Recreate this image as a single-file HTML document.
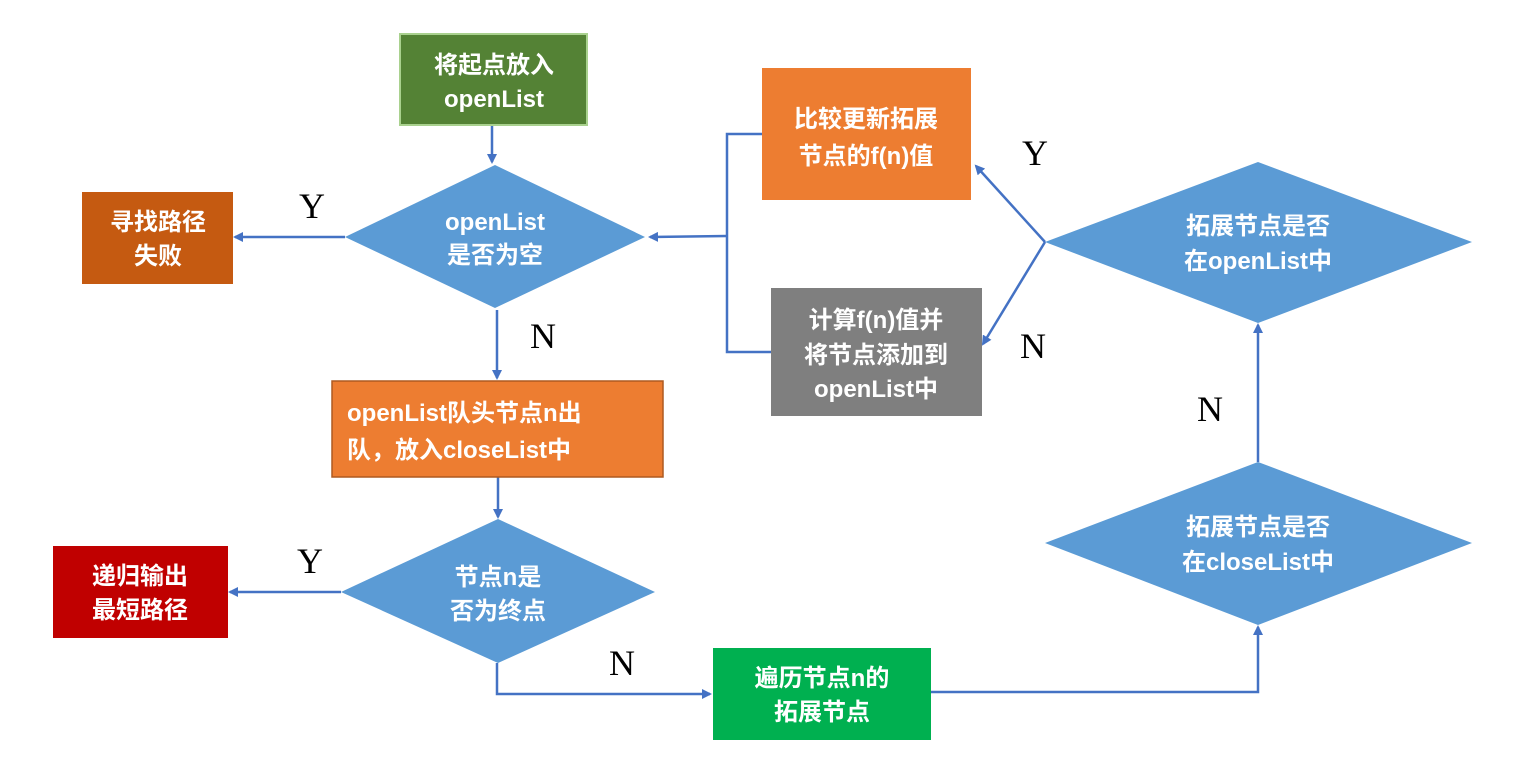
<!DOCTYPE html>
<html><head><meta charset="utf-8"><style>body{margin:0;background:#fff}svg{display:block}
.t{font-family:"Liberation Sans","Noto Sans CJK SC",sans-serif;font-weight:bold;font-size:24px;fill:#fff;text-anchor:middle}
.l{font-family:"Liberation Serif",serif;font-size:36px;fill:#000;text-anchor:middle}
</style></head><body>
<svg width="1523" height="768" viewBox="0 0 1523 768" xmlns="http://www.w3.org/2000/svg">
<defs><marker id="a" markerWidth="10" markerHeight="10" refX="8" refY="5" orient="auto" markerUnits="userSpaceOnUse"><path d="M0,0 L10,5 L0,10 z" fill="#4472c4"/></marker></defs>
<g stroke="#4472c4" stroke-width="2.5" fill="none">
<line x1="492" y1="125" x2="492" y2="162" marker-end="url(#a)"/>
<line x1="345" y1="237" x2="235" y2="237" marker-end="url(#a)"/>
<line x1="497" y1="310" x2="497" y2="378" marker-end="url(#a)"/>
<line x1="498" y1="477" x2="498" y2="517" marker-end="url(#a)"/>
<line x1="341" y1="592" x2="230" y2="592" marker-end="url(#a)"/>
<polyline points="497,663 497,694 710,694" marker-end="url(#a)"/>
<polyline points="931,692 1258,692 1258,627" marker-end="url(#a)"/>
<line x1="1258" y1="462" x2="1258" y2="325" marker-end="url(#a)"/>
<line x1="1045" y1="242" x2="976" y2="166" marker-end="url(#a)"/>
<line x1="1045" y1="242" x2="983" y2="344" marker-end="url(#a)"/>
<polyline points="762,134 727,134 727,352 771,352"/>
<line x1="727" y1="236" x2="650" y2="237" marker-end="url(#a)"/>
</g>
<rect x="400" y="34" width="187" height="91" fill="#548235" stroke="#a9d18e" stroke-width="2"/>
<text class="t" x="494" y="73">将起点放入</text><text class="t" x="494" y="107">openList</text>
<polygon points="345,237 495,165 645,237 495,308" fill="#5b9bd5"/>
<text class="t" x="495" y="230">openList</text><text class="t" x="495" y="263">是否为空</text>
<rect x="82" y="192" width="151" height="92" fill="#c55a11"/>
<text class="t" x="158" y="230">寻找路径</text><text class="t" x="158" y="264">失败</text>
<text class="l" x="312" y="218">Y</text>
<text class="l" x="543" y="348">N</text>
<rect x="332" y="381" width="331" height="96" fill="#ed7d31" stroke="#ae5a21" stroke-width="1.5"/>
<text class="t" x="490" y="421" style="text-anchor:start" transform="translate(-143,0)">openList队头节点n出</text>
<text class="t" x="347" y="458" style="text-anchor:start">队，放入closeList中</text>
<polygon points="341,592 498,519 655,592 498,663" fill="#5b9bd5"/>
<text class="t" x="498" y="585">节点n是</text><text class="t" x="498" y="619">否为终点</text>
<rect x="53" y="546" width="175" height="92" fill="#c00000"/>
<text class="t" x="140" y="584">递归输出</text><text class="t" x="140" y="618">最短路径</text>
<text class="l" x="310" y="573">Y</text>
<text class="l" x="622" y="675">N</text>
<rect x="713" y="648" width="218" height="92" fill="#00b050"/>
<text class="t" x="822" y="686">遍历节点n的</text><text class="t" x="822" y="720">拓展节点</text>
<polygon points="1045,543 1258,462 1472,543 1258,625" fill="#5b9bd5"/>
<text class="t" x="1258" y="535">拓展节点是否</text><text class="t" x="1258" y="570">在closeList中</text>
<text class="l" x="1210" y="421">N</text>
<polygon points="1045,242 1258,162 1472,242 1258,323" fill="#5b9bd5"/>
<text class="t" x="1258" y="234">拓展节点是否</text><text class="t" x="1258" y="269">在openList中</text>
<text class="l" x="1035" y="165">Y</text>
<text class="l" x="1033" y="358">N</text>
<rect x="762" y="68" width="209" height="132" fill="#ed7d31"/>
<text class="t" x="866" y="127">比较更新拓展</text><text class="t" x="866" y="164">节点的f(n)值</text>
<rect x="771" y="288" width="211" height="128" fill="#7f7f7f"/>
<text class="t" x="876" y="328">计算f(n)值并</text><text class="t" x="876" y="363">将节点添加到</text><text class="t" x="876" y="397">openList中</text>
</svg>
</body></html>
